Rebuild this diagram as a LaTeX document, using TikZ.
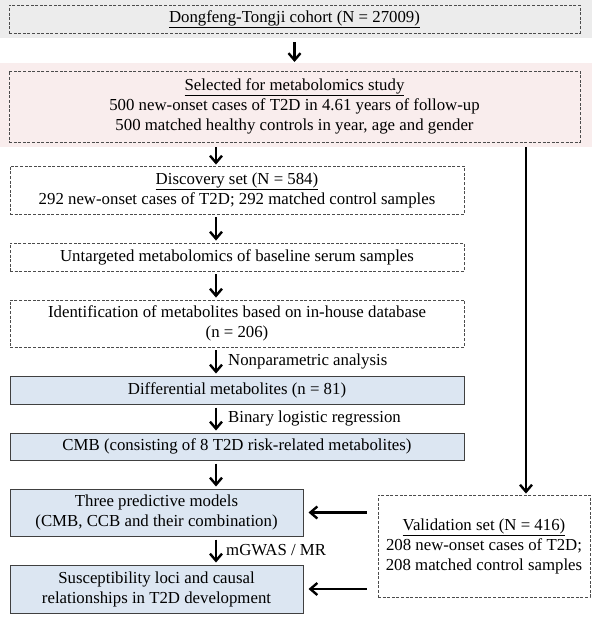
\documentclass[tikz,border=0pt]{standalone}
\usepackage{fontspec}
\setmainfont{Liberation Serif}
\usetikzlibrary{arrows.meta}

\definecolor{cohortgray}{RGB}{236,236,236}
\definecolor{selpink}{RGB}{249,237,237}
\definecolor{boxblue}{RGB}{220,230,242}

\begin{document}
\begin{tikzpicture}[x=1pt,y=-1pt,
    font=\fontsize{16.8}{20}\selectfont,
    band/.style={anchor=north west, inner sep=0pt},
    dbox/.style={draw=black!70, dash pattern=on 3pt off 1.6pt, line width=0.9pt,
      align=center, inner sep=0pt},
    fbox/.style={draw=black!75, fill=boxblue, line width=1pt,
      align=center, inner sep=0pt},
    flow/.style={-{Straight Barb[length=7pt,width=12pt]}, line width=2.4pt},
    note/.style={anchor=west, inner sep=0pt, xshift=11pt}]
  \useasboundingbox (0,0) rectangle (600,621);
  % backgrounds of the two top rows
  \node[band, fill=cohortgray, minimum width=592pt, minimum height=38pt] (cohortband) at (0,0) {};
  \node[band, fill=selpink, minimum width=592pt, minimum height=84pt] (selband) at (0,63) {};
  \coordinate (spine) at (216,0);
  \coordinate (vline) at (526,0);

  \node[dbox, minimum width=571pt, minimum height=28pt] (cohort) at (294.5,19)
    {\underline{Dongfeng-Tongji cohort (N = 27009)}};
  \node[dbox, minimum width=571pt, minimum height=71pt] (selected) at (294.5,106.5)
    {\underline{Selected for metabolomics study}\\
     500 new-onset cases of T2D in 4.61 years of follow-up\\
     500 matched healthy controls in year, age and gender};

  % discovery branch
  \node[dbox, minimum width=454pt, minimum height=48pt] (disc) at (237,190)
    {\underline{Discovery set (N = 584)}\\
     292 new-onset cases of T2D; 292 matched control samples};
  \node[dbox, minimum width=454pt, minimum height=28pt] (untarg) at (237,257)
    {Untargeted metabolomics of baseline serum samples};
  \node[dbox, minimum width=454pt, minimum height=47pt] (ident) at (237,323.5)
    {Identification of metabolites based on in-house database\\(n = 206)};
  \node[fbox, minimum width=454pt, minimum height=28pt] (diff) at (237,390)
    {Differential metabolites (n = 81)};
  \node[fbox, minimum width=454pt, minimum height=27pt] (cmb) at (237,446.5)
    {CMB (consisting of 8 T2D risk-related metabolites)};
  \node[fbox, minimum width=293pt, minimum height=47pt] (three) at (156.5,512.5)
    {Three predictive models\\(CMB, CCB and their combination)};
  \node[fbox, minimum width=293pt, minimum height=48pt] (susc) at (156.5,589)
    {Susceptibility loci and causal\\relationships in T2D development};

  % validation branch
  \node[dbox, minimum width=212pt, minimum height=102pt] (valid) at (484,546)
    {\underline{Validation set (N = 416)}\\
     208 new-onset cases of T2D;\\
     208 matched control samples};

  \draw[flow, shorten <=4pt, shorten >=1pt] (cohortband.south -| cohort) -- (selband.north -| cohort);
  \draw[flow, shorten >=1pt] (selband.south -| spine) -- (disc.north -| spine);
  \draw[flow, shorten <=3pt, shorten >=2pt] (disc.south -| spine) -- (untarg.north -| spine);
  \draw[flow, shorten <=3pt, shorten >=2pt] (untarg.south -| spine) -- (ident.north -| spine);
  \draw[flow, shorten <=3pt, shorten >=2pt] (ident.south -| spine) -- (diff.north -| spine)
    node[note, midway] (nonpar) {Nonparametric analysis};
  \draw[flow, shorten <=3pt, shorten >=2pt] (diff.south -| spine) -- (cmb.north -| spine)
    node[note, midway] (binlog) {Binary logistic regression};
  \draw[flow, shorten <=3pt, shorten >=2pt] (cmb.south -| spine) -- (three.north -| spine);
  \draw[flow, shorten <=3pt, shorten >=2pt] (three.south -| spine) -- (susc.north -| spine)
    node[note, midway, xshift=-2pt] (mgwas) {mGWAS / MR};
  \draw[flow, shorten >=1pt] (selband.south -| vline) -- (valid.north -| vline);
  \draw[flow, shorten <=11pt, shorten >=5pt] (valid.west |- three) -- (three.east);
  \draw[flow, shorten <=11pt, shorten >=5pt] (valid.west |- susc) -- (susc.east);
\end{tikzpicture}
\end{document}
